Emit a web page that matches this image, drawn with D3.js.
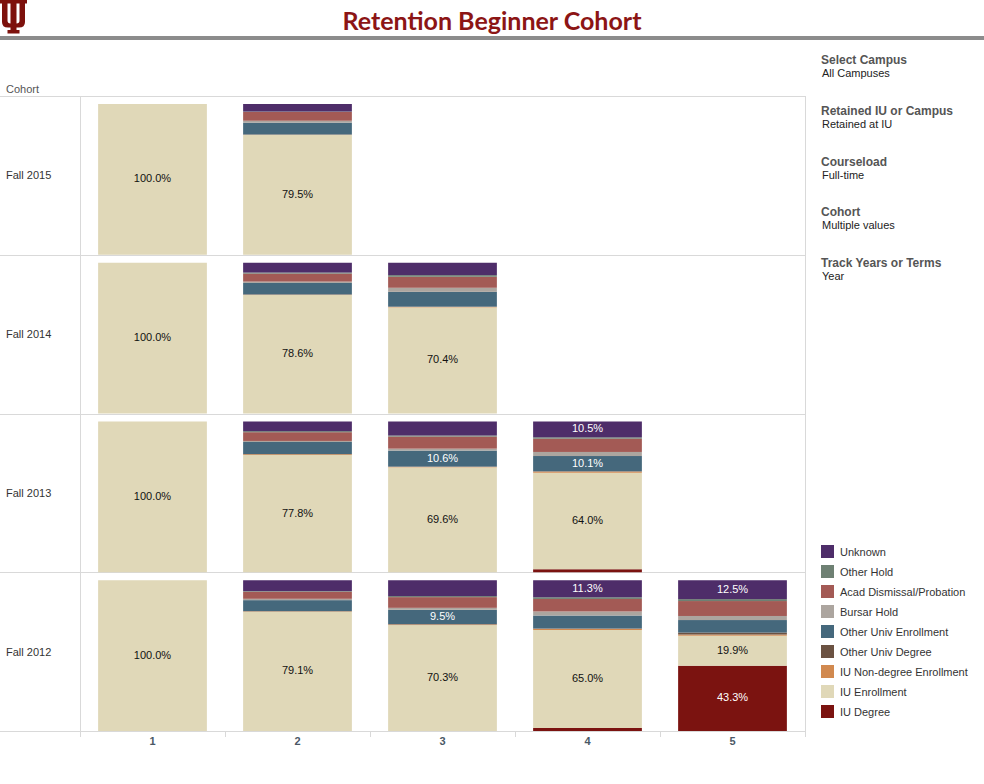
<!DOCTYPE html>
<html>
<head>
<meta charset="utf-8">
<script src="https://cdn.jsdelivr.net/npm/d3@7"></script>
<style>
  html, body { margin: 0; padding: 0; background: #fff; }
  svg { display: block; font-family: "Liberation Sans", Arial, sans-serif; }
</style>
</head>
<body>
<svg id="chart" width="984" height="784"></svg>
<script>
// ---------- data ----------
const cohorts = ["Fall 2015", "Fall 2014", "Fall 2013", "Fall 2012"];
const years = [1, 2, 3, 4, 5];

// stack order: bottom -> top
const categories = ["IU Degree", "IU Enrollment", "IU Non-degree Enrollment", "Other Univ Degree",
  "Other Univ Enrollment", "Bursar Hold", "Acad Dismissal/Probation", "Other Hold", "Unknown"];
const legendOrder = ["Unknown", "Other Hold", "Acad Dismissal/Probation", "Bursar Hold",
  "Other Univ Enrollment", "Other Univ Degree", "IU Non-degree Enrollment", "IU Enrollment", "IU Degree"];
const colors = ["#7b1310", "#e0d8b8", "#d1894f", "#6b5242", "#45687c", "#aca59f", "#a35a55", "#6e8073", "#4e2d69"];

// one entry per cell (cohort, year)
const cellCohort = ["Fall 2015", "Fall 2015",
  "Fall 2014", "Fall 2014", "Fall 2014",
  "Fall 2013", "Fall 2013", "Fall 2013", "Fall 2013",
  "Fall 2012", "Fall 2012", "Fall 2012", "Fall 2012", "Fall 2012"];
const cellYear = [1, 2, 1, 2, 3, 1, 2, 3, 4, 1, 2, 3, 4, 5];

const iuDegree       = [0, 0,    0, 0,    0,    0, 0,    0,    2.0,  0, 0,    0,    2.0,  43.3];
const iuEnrollment   = [100, 79.5, 100, 78.6, 70.4, 100, 77.8, 69.6, 64.0, 100, 79.1, 70.3, 65.0, 19.9];
const iuNonDegree    = [0, 0.1,  0, 0.2,  0.3,  0, 0.5,  0.3,  0.8,  0, 0.3,  0.4,  0.8,  0.8];
const otherUnivDeg   = [0, 0.2,  0, 0.2,  0.2,  0, 0.1,  0.2,  0.2,  0, 0.1,  0.2,  0.2,  1.3];
const otherUnivEnr   = [0, 7.8,  0, 7.6,  9.8,  0, 8.0,  10.6, 10.1, 0, 7.3,  9.5,  8.6,  8.3];
const bursarHold     = [0, 1.3,  0, 0.9,  2.7,  0, 0.7,  1.3,  2.7,  0, 0.9,  1.3,  2.7,  2.7];
const acadDismissal  = [0, 5.8,  0, 5.3,  7.3,  0, 5.8,  8.0,  8.8,  0, 4.7,  7.1,  8.3,  9.9];
const otherHold      = [0, 0.3,  0, 0.7,  1.1,  0, 0.7,  0.7,  0.9,  0, 0.4,  0.7,  1.1,  1.3];
const unknown        = [0, 5.0,  0, 6.5,  8.2,  0, 6.4,  9.3,  10.5, 0, 7.2,  10.5, 11.3, 12.5];

// segments that carry a value label: [cell index, category]
const labeled = [
  [0, "IU Enrollment"], [1, "IU Enrollment"], [2, "IU Enrollment"], [3, "IU Enrollment"], [4, "IU Enrollment"],
  [5, "IU Enrollment"], [6, "IU Enrollment"], [7, "IU Enrollment"], [8, "IU Enrollment"],
  [9, "IU Enrollment"], [10, "IU Enrollment"], [11, "IU Enrollment"], [12, "IU Enrollment"], [13, "IU Enrollment"],
  [13, "IU Degree"],
  [7, "Other Univ Enrollment"], [8, "Other Univ Enrollment"], [11, "Other Univ Enrollment"],
  [8, "Unknown"], [12, "Unknown"], [13, "Unknown"]
];

const filterTitles = ["Select Campus", "Retained IU or Campus", "Courseload", "Cohort", "Track Years or Terms"];
const filterValues = ["All Campuses", "Retained at IU", "Full-time", "Multiple values", "Year"];

// ---------- build ----------
const series = [iuDegree, iuEnrollment, iuNonDegree, otherUnivDeg, otherUnivEnr, bursarHold, acadDismissal, otherHold, unknown];
const table = cellYear.map((yr, i) => {
  const row = { cohort: cellCohort[i], year: yr, idx: i };
  categories.forEach((c, k) => row[c] = series[k][i]);
  return row;
});
const stacked = d3.stack().keys(categories)(table);
const color = d3.scaleOrdinal().domain(categories).range(colors);
const labelSet = new Set(labeled.map(d => d[0] + "|" + d[1]));
const darkText = new Set(["IU Enrollment"]);

const svg = d3.select("#chart");
const W = 984;

const plotL = 80, plotR = 805, plotT = 96, plotB = 731;
const x = d3.scaleBand().domain(years).range([plotL, plotR]).paddingInner(0.25).paddingOuter(0.125);
const rows = d3.scaleBand().domain(cohorts).range([plotT, plotB]);
const rowH = rows.bandwidth();
const y = d3.scaleLinear().domain([0, 100]).range([rowH, 8]);

// ---------- header ----------
// IU trident logo
svg.append("path")
  .attr("fill", "#7d110c")
  .attr("d", "M0,0 H9.5 V3.5 H7.5 V20.5 Q7.5,23.5 10.5,23.5 H10.5 V3.5 H8.5 V0 H18.5 V3.5 H16.5 V23.5 H16.5 Q19.5,23.5 19.5,20.5 V3.5 H17.5 V0 H27 V3.5 H25 V22 Q25,27.5 19,27.5 H16.5 V30 H19.5 V33.5 H7.5 V30 H10.5 V27.5 H8 Q2,27.5 2,22 V3.5 H0 Z");

svg.append("text")
  .attr("x", 492).attr("y", 30)
  .attr("text-anchor", "middle")
  .attr("font-family", "Lato, 'Open Sans', sans-serif")
  .attr("font-weight", "bold")
  .attr("font-size", 25)
  .attr("fill", "#8c1515")
  .text("Retention Beginner Cohort");

svg.append("rect").attr("x", 0).attr("y", 36).attr("width", W).attr("height", 4).attr("fill", "#8c8c8c");

// ---------- grid ----------
svg.append("text").attr("x", 6).attr("y", 93).attr("font-size", 11).attr("fill", "#555").text("Cohort");

const grid = svg.append("g").attr("stroke", "#d9d9d9").attr("stroke-width", 1).attr("shape-rendering", "crispEdges");
[plotT, ...cohorts.map(c => rows(c) + rowH)].forEach(yy => {
  grid.append("line").attr("x1", 0).attr("x2", plotR).attr("y1", Math.round(yy) + 0.5).attr("y2", Math.round(yy) + 0.5);
});
grid.append("line").attr("x1", plotL + 0.5).attr("x2", plotL + 0.5).attr("y1", plotT).attr("y2", plotB + 6);
grid.append("line").attr("x1", plotR + 0.5).attr("x2", plotR + 0.5).attr("y1", plotT).attr("y2", plotB + 6);
years.slice(1).forEach(yr => {
  const xx = Math.round(x(yr) - x.step() * x.paddingInner() / 2) + 0.5;
  grid.append("line").attr("x1", xx).attr("x2", xx).attr("y1", plotB).attr("y2", plotB + 6);
});

// row labels
svg.append("g").selectAll("text").data(cohorts).join("text")
  .attr("x", 6).attr("y", d => rows(d) + rowH / 2 + 4)
  .attr("font-size", 11).attr("fill", "#333").text(d => d);

// ---------- bars ----------
const barsG = svg.append("g");
stacked.forEach(layer => {
  const key = layer.key;
  barsG.append("g").attr("fill", color(key))
    .selectAll("rect").data(layer.filter(d => d[1] - d[0] > 0)).join("rect")
    .attr("x", d => x(d.data.year))
    .attr("width", x.bandwidth())
    .attr("y", d => rows(d.data.cohort) + y(d[1]))
    .attr("height", d => y(d[0]) - y(d[1]));
});

// labels
const labG = svg.append("g").attr("font-size", 11).attr("text-anchor", "middle");
stacked.forEach(layer => {
  const key = layer.key;
  layer.forEach(d => {
    if (!labelSet.has(d.data.idx + "|" + key)) return;
    const v = d[1] - d[0];
    labG.append("text")
      .attr("x", x(d.data.year) + x.bandwidth() / 2)
      .attr("y", rows(d.data.cohort) + (y(d[0]) + y(d[1])) / 2 + 3)
      .attr("fill", darkText.has(key) ? "#111" : "#fff")
      .text(d3.format(".1f")(v) + "%");
  });
});

// x axis
const xAxis = d3.axisBottom(x).tickSize(0).tickPadding(6);
const axG = svg.append("g").attr("transform", `translate(0,${plotB})`).call(xAxis);
axG.select(".domain").remove();
axG.selectAll("text").attr("font-size", 11).attr("font-weight", "bold").attr("fill", "#4a5866")
  .attr("font-family", "'Liberation Sans', Arial, sans-serif");

// ---------- filters ----------
const fG = svg.append("g");
filterTitles.forEach((t, i) => {
  const yy = 64 + i * 50.8;
  fG.append("text").attr("x", 821).attr("y", yy).attr("font-size", 12).attr("font-weight", "bold").attr("fill", "#555").text(t);
  fG.append("text").attr("x", 822).attr("y", yy + 13).attr("font-size", 11).attr("fill", "#222").text(filterValues[i]);
});

// ---------- legend ----------
const lg = svg.append("g").attr("transform", "translate(821,545)");
legendOrder.forEach((c, i) => {
  const g = lg.append("g").attr("transform", `translate(0,${i * 20})`);
  g.append("rect").attr("width", 13).attr("height", 13).attr("fill", color(c));
  g.append("text").attr("x", 19).attr("y", 11).attr("font-size", 11).attr("fill", "#333").text(c);
});
</script>
</body>
</html>
